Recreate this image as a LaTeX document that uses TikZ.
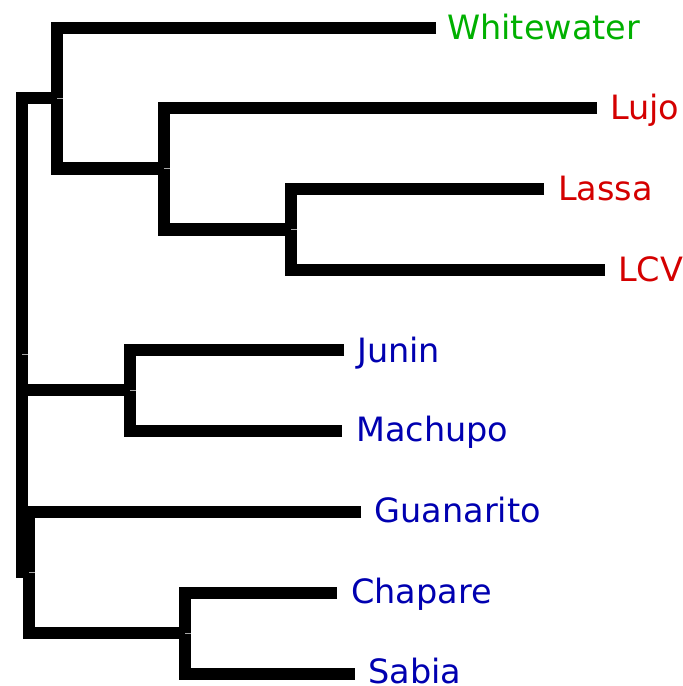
\documentclass[tikz,border=0pt]{standalone}
\usepackage{fontspec}
\setmainfont{DejaVu Sans}
\definecolor{outgrp}{HTML}{00B000}
\definecolor{oldw}{HTML}{D40000}
\definecolor{neww}{HTML}{0000B0}
\begin{document}
\begin{tikzpicture}[x=1pt,y=-1pt,
  branch/.style={line width=12.7pt,black},
  tick/.style={line width=0.8pt,gray!70},
  taxon/.style={anchor=base west,inner sep=0pt,font=\fontsize{33.5}{40}\selectfont},
]
\useasboundingbox (0,0) rectangle (683,686);

% internal nodes
\coordinate (rt)  at (22,98);
\coordinate (rb)  at (22,572);
\coordinate (nW)  at (57,98);
\coordinate (nL)  at (164,168.5);
\coordinate (nLL) at (291,229.5);
\coordinate (nJM) at (130,390);
\coordinate (nG)  at (29,572);
\coordinate (nCS) at (185,633);

% branch tips
\coordinate (tW)  at (436,28);
\coordinate (tLu) at (597,108);
\coordinate (tLa) at (544,189);
\coordinate (tLC) at (605,270);
\coordinate (tJ)  at (344,350);
\coordinate (tM)  at (342,431);
\coordinate (tG)  at (361,512);
\coordinate (tC)  at (337,593);
\coordinate (tS)  at (355,674);

% taxon labels
\node[taxon,text=outgrp] (Whitewater) at (447,39.3)  {Whitewater};
\node[taxon,text=oldw]   (Lujo)       at (610,119.3) {Lujo};
\node[taxon,text=oldw]   (Lassa)      at (558,200)   {Lassa};
\node[taxon,text=oldw]   (LCV)        at (618,281.7) {LCV};
\node[taxon,text=neww]   (Junin)      at (357,362)   {Junin};
\node[taxon,text=neww]   (Machupo)    at (356,441)   {Machupo};
\node[taxon,text=neww]   (Guanarito)  at (374.5,522.7) {Guanarito};
\node[taxon,text=neww]   (Chapare)    at (351,603.3) {Chapare};
\node[taxon,text=neww]   (Sabia)      at (368,683)   {Sabia};

% tree branches
\draw[branch] (nW) -- (rt) -- (rb) -- (nG);
\draw[branch] (nJM) -- (nJM -| rt);
\draw[branch] (tW) -| (nW) |- (nL);
\draw[branch] (tLu) -| (nL) |- (nLL);
\draw[branch] (tLa) -| (nLL) |- (tLC);
\draw[branch] (tJ) -| (nJM) |- (tM);
\draw[branch] (tG) -| (nG) |- (nCS);
\draw[branch] (tC) -| (nCS) |- (tS);

% faint node ticks
\foreach \p/\dy in {nW/0,nL/0.5,nLL/0.5,nJM/0,nG/0,nCS/0}
  \draw[tick] ([yshift=\dy pt]\p) -- ++(6,0);
\draw[tick] (22,354) -- ++(6,0);
\end{tikzpicture}
\end{document}
